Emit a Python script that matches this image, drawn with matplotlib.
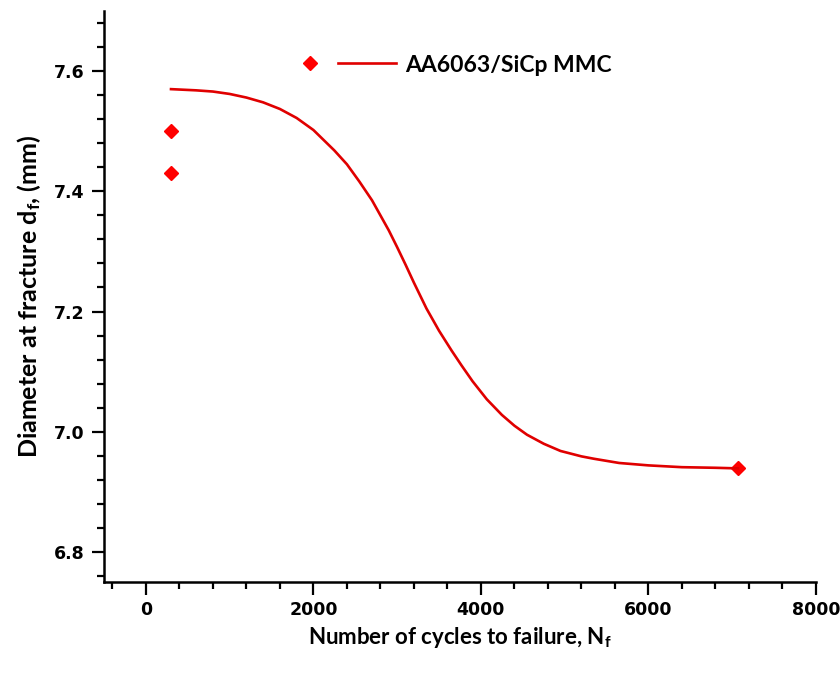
import matplotlib
matplotlib.use('Agg')
import matplotlib.pyplot as plt
from matplotlib.ticker import MultipleLocator
from matplotlib.legend_handler import HandlerTuple

# Measured points
cycles = [300, 300, 7070]
diameter = [7.50, 7.43, 6.94]

# Fitted curve
fit_x = [300, 600, 800, 1000, 1200, 1400, 1600, 1800, 2000, 2250, 2400,
         2550, 2700, 2900, 3000, 3100, 3200, 3350, 3500, 3650, 3770, 3900,
         4070, 4250, 4400, 4550, 4750, 4950, 5200, 5350, 5650, 6000, 6400,
         6800, 7070]
fit_y = [7.570, 7.568, 7.566, 7.562, 7.556, 7.548, 7.537, 7.522, 7.502,
         7.468, 7.445, 7.416, 7.385, 7.335, 7.307, 7.278, 7.248, 7.205,
         7.168, 7.135, 7.110, 7.084, 7.054, 7.028, 7.010, 6.995, 6.980,
         6.968, 6.959, 6.955, 6.948, 6.944, 6.941, 6.940, 6.939]

series_label = 'AA6063/SiCp MMC'
x_ticks = [0, 2000, 4000, 6000, 8000]
y_ticks = [6.8, 7.0, 7.2, 7.4, 7.6]

plt.rcParams['font.family'] = 'Lato'
plt.rcParams['mathtext.fontset'] = 'custom'
plt.rcParams['mathtext.rm'] = 'Lato:bold'

fig = plt.figure(figsize=(8.4, 6.75), dpi=100)
ax = fig.add_axes([0.1238, 0.1378, 0.8476, 0.8459])

pts, = ax.plot(cycles, diameter, linestyle='none', marker='D', ms=7,
               color='#ff0000', mec='#ff0000')
fit, = ax.plot(fit_x, fit_y, color='#e00000', lw=1.9)

ax.set_xlim(-500, 8000)
ax.set_ylim(6.75, 7.70)
ax.set_xticks(x_ticks)
ax.set_yticks(y_ticks)
ax.set_yticklabels(['%.1f' % v for v in y_ticks])
ax.xaxis.set_minor_locator(MultipleLocator(400))
ax.yaxis.set_minor_locator(MultipleLocator(0.04))

for side in ['top', 'right']:
    ax.spines[side].set_visible(False)
for side in ['left', 'bottom']:
    ax.spines[side].set_linewidth(1.8)

ax.tick_params(which='major', direction='out', length=9, width=1.6, pad=5)
ax.tick_params(which='minor', direction='out', length=5, width=1.6)
for lab in ax.get_xticklabels() + ax.get_yticklabels():
    lab.set_fontfamily('DejaVu Sans')
    lab.set_fontweight('bold')
    lab.set_fontsize(12.5)

ax.set_xlabel(r'Number of cycles to failure, $\mathregular{N_f}$',
              fontsize=16, fontweight='bold', labelpad=4)
ax.set_ylabel(r'Diameter at fracture $\mathregular{d_f}$, (mm)',
              fontsize=18, fontweight='bold', labelpad=8)

ax.legend([(pts, fit)], [series_label],
          handler_map={tuple: HandlerTuple(ndivide=2, pad=0)},
          loc='center left', bbox_to_anchor=(0.2486, 0.9054),
          frameon=False, borderpad=0, borderaxespad=0,
          handlelength=5.0, handletextpad=0.4,
          prop={'family': 'Lato', 'weight': 'bold', 'size': 16.5})

fig.savefig('out.png', dpi=100)
